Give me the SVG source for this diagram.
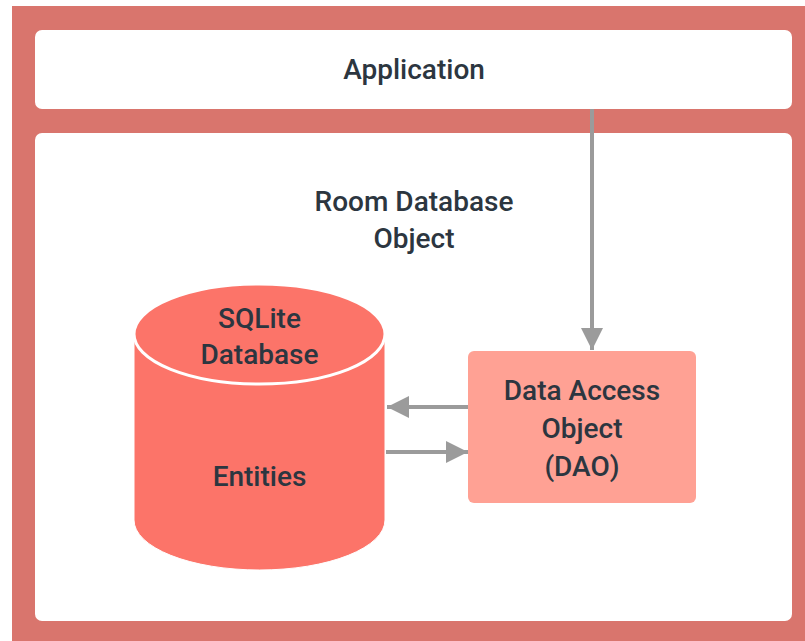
<svg xmlns="http://www.w3.org/2000/svg" width="805" height="641" viewBox="0 0 805 641">
<defs>
<style>
.t{font-family:Roboto,"Liberation Sans",sans-serif;font-size:28px;font-weight:500;fill:#2c3640;text-anchor:middle}
.box{fill:#ffffff}
.c{stroke:#9b9b9b;stroke-width:4;fill:none}
</style>
<marker id="ah" viewBox="0 0 10 10" refX="10" refY="5" markerWidth="5.5" markerHeight="5.5" orient="auto" markerUnits="strokeWidth">
<path d="M0,0 L10,5 L0,10 Z" fill="#9b9b9b"/>
</marker>
</defs>
<rect x="0" y="0" width="805" height="641" fill="#ffffff"/>
<rect x="12" y="6" width="800" height="640" fill="#d9756d"/>
<g id="application">
<rect class="box" x="35" y="30" width="757" height="79" rx="7"/>
<text class="t" x="414" y="79">Application</text>
</g>
<g id="room">
<rect class="box" x="35" y="133" width="757" height="488" rx="7"/>
<text class="t" x="414" y="211">Room Database</text>
<text class="t" x="414" y="248">Object</text>
</g>
<g id="sqlite">
<path d="M134,334 L134,520 A125.5,50 0 0 0 385,520 L385,334 Z" fill="#fc7469" stroke="#ffffff" stroke-width="1"/>
<ellipse cx="259.5" cy="334" rx="125.5" ry="50" fill="#fc7469" stroke="#ffffff" stroke-width="3"/>
<text class="t" x="259.5" y="328">SQLite</text>
<text class="t" x="259.5" y="364">Database</text>
<text class="t" x="259.5" y="486">Entities</text>
</g>
<g id="dao">
<rect x="468" y="351" width="228" height="152" rx="6" fill="#ffa194"/>
<text class="t" x="582" y="400">Data Access</text>
<text class="t" x="582" y="438">Object</text>
<text class="t" x="582" y="476">(DAO)</text>
</g>
<g id="connectors">
<line class="c" x1="592" y1="109" x2="592" y2="350" marker-end="url(#ah)"/>
<line class="c" x1="468" y1="407" x2="387" y2="407" marker-end="url(#ah)"/>
<line class="c" x1="386" y1="452" x2="468" y2="452" marker-end="url(#ah)"/>
</g>
</svg>
